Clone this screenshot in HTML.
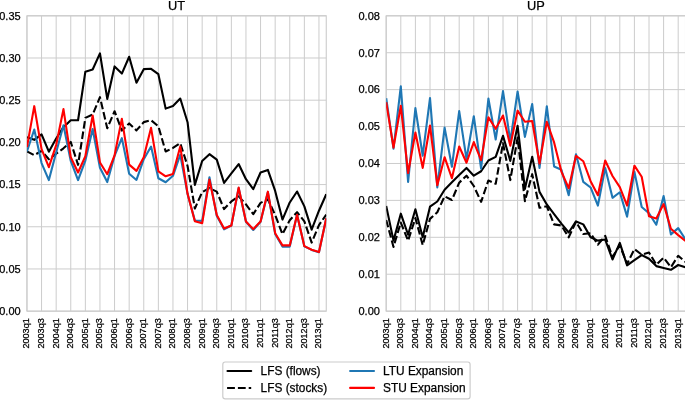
<!DOCTYPE html>
<html><head><meta charset="utf-8"><title>UT / UP</title>
<style>
html,body{margin:0;padding:0;background:#fff;}
body{width:685px;height:400px;overflow:hidden;}
svg{display:block;will-change:transform;font-family:"Liberation Sans",sans-serif;fill:#000;}
svg text{fill:#000;stroke:#000;stroke-width:0.25px;}
</style></head>
<body>
<svg width="685" height="400" viewBox="0 0 685 400">
<rect x="0" y="0" width="685" height="400" fill="#fff"/>
<g id="left">
<line x1="26.96" y1="15.8" x2="26.96" y2="311.15" stroke="#cccccc" stroke-width="1"/>
<line x1="41.56" y1="15.8" x2="41.56" y2="311.15" stroke="#cccccc" stroke-width="1"/>
<line x1="56.16" y1="15.8" x2="56.16" y2="311.15" stroke="#cccccc" stroke-width="1"/>
<line x1="70.76" y1="15.8" x2="70.76" y2="311.15" stroke="#cccccc" stroke-width="1"/>
<line x1="85.36" y1="15.8" x2="85.36" y2="311.15" stroke="#cccccc" stroke-width="1"/>
<line x1="99.96" y1="15.8" x2="99.96" y2="311.15" stroke="#cccccc" stroke-width="1"/>
<line x1="114.56" y1="15.8" x2="114.56" y2="311.15" stroke="#cccccc" stroke-width="1"/>
<line x1="129.16" y1="15.8" x2="129.16" y2="311.15" stroke="#cccccc" stroke-width="1"/>
<line x1="143.76" y1="15.8" x2="143.76" y2="311.15" stroke="#cccccc" stroke-width="1"/>
<line x1="158.36" y1="15.8" x2="158.36" y2="311.15" stroke="#cccccc" stroke-width="1"/>
<line x1="172.96" y1="15.8" x2="172.96" y2="311.15" stroke="#cccccc" stroke-width="1"/>
<line x1="187.56" y1="15.8" x2="187.56" y2="311.15" stroke="#cccccc" stroke-width="1"/>
<line x1="202.16" y1="15.8" x2="202.16" y2="311.15" stroke="#cccccc" stroke-width="1"/>
<line x1="216.76" y1="15.8" x2="216.76" y2="311.15" stroke="#cccccc" stroke-width="1"/>
<line x1="231.36" y1="15.8" x2="231.36" y2="311.15" stroke="#cccccc" stroke-width="1"/>
<line x1="245.96" y1="15.8" x2="245.96" y2="311.15" stroke="#cccccc" stroke-width="1"/>
<line x1="260.56" y1="15.8" x2="260.56" y2="311.15" stroke="#cccccc" stroke-width="1"/>
<line x1="275.16" y1="15.8" x2="275.16" y2="311.15" stroke="#cccccc" stroke-width="1"/>
<line x1="289.76" y1="15.8" x2="289.76" y2="311.15" stroke="#cccccc" stroke-width="1"/>
<line x1="304.36" y1="15.8" x2="304.36" y2="311.15" stroke="#cccccc" stroke-width="1"/>
<line x1="318.96" y1="15.8" x2="318.96" y2="311.15" stroke="#cccccc" stroke-width="1"/>
<line x1="26.96" y1="311.15" x2="326.26" y2="311.15" stroke="#cccccc" stroke-width="1"/>
<line x1="26.96" y1="268.96" x2="326.26" y2="268.96" stroke="#cccccc" stroke-width="1"/>
<line x1="26.96" y1="226.76" x2="326.26" y2="226.76" stroke="#cccccc" stroke-width="1"/>
<line x1="26.96" y1="184.57" x2="326.26" y2="184.57" stroke="#cccccc" stroke-width="1"/>
<line x1="26.96" y1="142.38" x2="326.26" y2="142.38" stroke="#cccccc" stroke-width="1"/>
<line x1="26.96" y1="100.19" x2="326.26" y2="100.19" stroke="#cccccc" stroke-width="1"/>
<line x1="26.96" y1="57.99" x2="326.26" y2="57.99" stroke="#cccccc" stroke-width="1"/>
<line x1="26.96" y1="15.80" x2="326.26" y2="15.80" stroke="#cccccc" stroke-width="1"/>
<rect x="26.96" y="15.8" width="299.30" height="295.35" fill="none" stroke="#cccccc" stroke-width="1.1"/>
<clipPath id="clipUT"><rect x="26.96" y="15.8" width="299.30" height="295.35"/></clipPath>
<g clip-path="url(#clipUT)">
<polyline points="26.96,137.32 34.26,139.85 41.56,134.36 48.86,151.66 56.16,138.50 63.46,127.19 70.76,120.27 78.06,120.27 85.36,71.66 92.66,69.55 99.96,53.44 107.26,98.92 114.56,66.43 121.86,73.60 129.16,56.73 136.46,82.72 143.76,69.13 151.06,68.79 158.36,74.19 165.66,108.62 172.96,106.09 180.26,98.50 187.56,122.21 194.86,184.91 202.16,160.94 209.46,154.19 216.76,159.68 224.06,182.88 231.36,173.43 238.66,164.07 245.96,179.17 253.26,189.13 260.56,172.50 267.86,169.89 275.16,190.90 282.46,219.59 289.76,202.46 297.06,191.49 304.36,206.34 311.66,229.63 318.96,210.73 326.26,194.28" fill="none" stroke="#000" stroke-width="2.1" stroke-linejoin="round" stroke-linecap="butt"/>
<polyline points="26.96,151.32 34.26,155.21 41.56,150.82 48.86,159.26 56.16,153.69 63.46,148.29 70.76,141.96 78.06,164.83 85.36,117.91 92.66,114.53 99.96,97.15 107.26,128.29 114.56,111.24 121.86,130.56 129.16,123.39 136.46,130.40 143.76,122.13 151.06,120.27 158.36,126.35 165.66,151.49 172.96,147.95 180.26,143.22 187.56,166.01 194.86,208.45 202.16,192.08 209.46,188.12 216.76,191.66 224.06,209.04 231.36,201.45 238.66,196.39 245.96,204.40 253.26,214.19 260.56,202.88 267.86,199.25 275.16,214.95 282.46,234.19 289.76,220.18 297.06,212.17 304.36,221.36 311.66,242.63 318.96,225.08 326.26,214.61" fill="none" stroke="#000" stroke-width="2.1" stroke-linejoin="round" stroke-linecap="butt" stroke-dasharray="7.6 3.0"/>
<polyline points="26.96,151.32 34.26,129.47 41.56,163.05 48.86,180.10 56.16,152.50 63.46,125.25 70.76,160.94 78.06,180.10 85.36,160.52 92.66,129.05 99.96,167.69 107.26,182.04 114.56,155.88 121.86,138.16 129.16,173.69 136.46,179.93 143.76,159.26 151.06,146.60 158.36,178.24 165.66,182.29 172.96,175.80 180.26,154.78 187.56,193.85 194.86,220.44 202.16,220.86 209.46,177.23 216.76,215.79 224.06,229.30 231.36,225.50 238.66,187.95 245.96,221.70 253.26,229.97 260.56,221.70 267.86,192.17 275.16,233.94 282.46,246.59 289.76,246.59 297.06,214.78 304.36,246.34 311.66,249.89 318.96,252.25 326.26,218.33" fill="none" stroke="#1f77b4" stroke-width="2.1" stroke-linejoin="round" stroke-linecap="butt"/>
<polyline points="26.96,147.19 34.26,106.18 41.56,149.13 48.86,167.19 56.16,145.08 63.46,109.13 70.76,157.23 78.06,172.50 85.36,156.30 92.66,115.46 99.96,162.46 107.26,174.19 114.56,155.37 121.86,118.83 129.16,164.66 136.46,170.90 143.76,157.23 151.06,127.86 158.36,171.32 165.66,176.30 172.96,174.02 180.26,146.60 187.56,193.85 194.86,221.19 202.16,223.30 209.46,179.68 216.76,215.03 224.06,228.54 231.36,225.50 238.66,187.61 245.96,221.45 253.26,229.13 260.56,221.45 267.86,191.66 275.16,233.18 282.46,245.41 289.76,245.41 297.06,214.78 304.36,246.17 311.66,249.72 318.96,252.08 326.26,218.33" fill="none" stroke="#ff0000" stroke-width="2.1" stroke-linejoin="round" stroke-linecap="butt"/>
</g>
<text x="20.66" y="315.00" text-anchor="end" font-size="11">0.00</text>
<text x="20.66" y="272.81" text-anchor="end" font-size="11">0.05</text>
<text x="20.66" y="230.61" text-anchor="end" font-size="11">0.10</text>
<text x="20.66" y="188.42" text-anchor="end" font-size="11">0.15</text>
<text x="20.66" y="146.23" text-anchor="end" font-size="11">0.20</text>
<text x="20.66" y="104.04" text-anchor="end" font-size="11">0.25</text>
<text x="20.66" y="61.84" text-anchor="end" font-size="11">0.30</text>
<text x="20.66" y="19.65" text-anchor="end" font-size="11">0.35</text>
<text transform="translate(29.36,318.2) rotate(-90)" text-anchor="end" font-size="9.1">2003q1</text>
<text transform="translate(43.96,318.2) rotate(-90)" text-anchor="end" font-size="9.1">2003q3</text>
<text transform="translate(58.56,318.2) rotate(-90)" text-anchor="end" font-size="9.1">2004q1</text>
<text transform="translate(73.16,318.2) rotate(-90)" text-anchor="end" font-size="9.1">2004q3</text>
<text transform="translate(87.76,318.2) rotate(-90)" text-anchor="end" font-size="9.1">2005q1</text>
<text transform="translate(102.36,318.2) rotate(-90)" text-anchor="end" font-size="9.1">2005q3</text>
<text transform="translate(116.96,318.2) rotate(-90)" text-anchor="end" font-size="9.1">2006q1</text>
<text transform="translate(131.56,318.2) rotate(-90)" text-anchor="end" font-size="9.1">2006q3</text>
<text transform="translate(146.16,318.2) rotate(-90)" text-anchor="end" font-size="9.1">2007q1</text>
<text transform="translate(160.76,318.2) rotate(-90)" text-anchor="end" font-size="9.1">2007q3</text>
<text transform="translate(175.36,318.2) rotate(-90)" text-anchor="end" font-size="9.1">2008q1</text>
<text transform="translate(189.96,318.2) rotate(-90)" text-anchor="end" font-size="9.1">2008q3</text>
<text transform="translate(204.56,318.2) rotate(-90)" text-anchor="end" font-size="9.1">2009q1</text>
<text transform="translate(219.16,318.2) rotate(-90)" text-anchor="end" font-size="9.1">2009q3</text>
<text transform="translate(233.76,318.2) rotate(-90)" text-anchor="end" font-size="9.1">2010q1</text>
<text transform="translate(248.36,318.2) rotate(-90)" text-anchor="end" font-size="9.1">2010q3</text>
<text transform="translate(262.96,318.2) rotate(-90)" text-anchor="end" font-size="9.1">2011q1</text>
<text transform="translate(277.56,318.2) rotate(-90)" text-anchor="end" font-size="9.1">2011q3</text>
<text transform="translate(292.16,318.2) rotate(-90)" text-anchor="end" font-size="9.1">2012q1</text>
<text transform="translate(306.76,318.2) rotate(-90)" text-anchor="end" font-size="9.1">2012q3</text>
<text transform="translate(321.36,318.2) rotate(-90)" text-anchor="end" font-size="9.1">2013q1</text>
<text x="176.61" y="10.3" text-anchor="middle" font-size="12.8">UT</text>
</g>
<g id="right">
<line x1="386.20" y1="15.8" x2="386.20" y2="311.15" stroke="#cccccc" stroke-width="1"/>
<line x1="400.80" y1="15.8" x2="400.80" y2="311.15" stroke="#cccccc" stroke-width="1"/>
<line x1="415.40" y1="15.8" x2="415.40" y2="311.15" stroke="#cccccc" stroke-width="1"/>
<line x1="430.00" y1="15.8" x2="430.00" y2="311.15" stroke="#cccccc" stroke-width="1"/>
<line x1="444.60" y1="15.8" x2="444.60" y2="311.15" stroke="#cccccc" stroke-width="1"/>
<line x1="459.20" y1="15.8" x2="459.20" y2="311.15" stroke="#cccccc" stroke-width="1"/>
<line x1="473.80" y1="15.8" x2="473.80" y2="311.15" stroke="#cccccc" stroke-width="1"/>
<line x1="488.40" y1="15.8" x2="488.40" y2="311.15" stroke="#cccccc" stroke-width="1"/>
<line x1="503.00" y1="15.8" x2="503.00" y2="311.15" stroke="#cccccc" stroke-width="1"/>
<line x1="517.60" y1="15.8" x2="517.60" y2="311.15" stroke="#cccccc" stroke-width="1"/>
<line x1="532.20" y1="15.8" x2="532.20" y2="311.15" stroke="#cccccc" stroke-width="1"/>
<line x1="546.80" y1="15.8" x2="546.80" y2="311.15" stroke="#cccccc" stroke-width="1"/>
<line x1="561.40" y1="15.8" x2="561.40" y2="311.15" stroke="#cccccc" stroke-width="1"/>
<line x1="576.00" y1="15.8" x2="576.00" y2="311.15" stroke="#cccccc" stroke-width="1"/>
<line x1="590.60" y1="15.8" x2="590.60" y2="311.15" stroke="#cccccc" stroke-width="1"/>
<line x1="605.20" y1="15.8" x2="605.20" y2="311.15" stroke="#cccccc" stroke-width="1"/>
<line x1="619.80" y1="15.8" x2="619.80" y2="311.15" stroke="#cccccc" stroke-width="1"/>
<line x1="634.40" y1="15.8" x2="634.40" y2="311.15" stroke="#cccccc" stroke-width="1"/>
<line x1="649.00" y1="15.8" x2="649.00" y2="311.15" stroke="#cccccc" stroke-width="1"/>
<line x1="663.60" y1="15.8" x2="663.60" y2="311.15" stroke="#cccccc" stroke-width="1"/>
<line x1="678.20" y1="15.8" x2="678.20" y2="311.15" stroke="#cccccc" stroke-width="1"/>
<line x1="386.2" y1="311.15" x2="685.50" y2="311.15" stroke="#cccccc" stroke-width="1"/>
<line x1="386.2" y1="274.23" x2="685.50" y2="274.23" stroke="#cccccc" stroke-width="1"/>
<line x1="386.2" y1="237.31" x2="685.50" y2="237.31" stroke="#cccccc" stroke-width="1"/>
<line x1="386.2" y1="200.39" x2="685.50" y2="200.39" stroke="#cccccc" stroke-width="1"/>
<line x1="386.2" y1="163.47" x2="685.50" y2="163.47" stroke="#cccccc" stroke-width="1"/>
<line x1="386.2" y1="126.56" x2="685.50" y2="126.56" stroke="#cccccc" stroke-width="1"/>
<line x1="386.2" y1="89.64" x2="685.50" y2="89.64" stroke="#cccccc" stroke-width="1"/>
<line x1="386.2" y1="52.72" x2="685.50" y2="52.72" stroke="#cccccc" stroke-width="1"/>
<line x1="386.2" y1="15.80" x2="685.50" y2="15.80" stroke="#cccccc" stroke-width="1"/>
<rect x="386.2" y="15.8" width="299.30" height="295.35" fill="none" stroke="#cccccc" stroke-width="1.1"/>
<clipPath id="clipUP"><rect x="386.2" y="15.8" width="299.30" height="295.35"/></clipPath>
<g clip-path="url(#clipUP)">
<polyline points="386.20,205.93 393.50,240.64 400.80,213.68 408.10,234.73 415.40,209.25 422.70,237.31 430.00,206.67 437.30,201.50 444.60,189.69 451.90,182.30 459.20,174.92 466.50,167.91 473.80,175.66 481.10,171.23 488.40,160.52 495.70,156.83 503.00,135.79 510.30,160.89 517.60,125.82 524.90,188.95 532.20,156.83 539.50,191.90 546.80,204.45 554.10,214.05 561.40,223.65 568.70,232.51 576.00,221.44 583.30,224.39 590.60,237.31 597.90,240.64 605.20,239.53 612.50,259.46 619.80,242.85 627.10,265.37 634.40,260.20 641.70,255.03 649.00,258.73 656.30,266.11 663.60,267.96 670.90,269.80 678.20,265.00 685.50,267.22" fill="none" stroke="#000" stroke-width="2.1" stroke-linejoin="round" stroke-linecap="butt"/>
<polyline points="386.20,219.96 393.50,246.91 400.80,222.54 408.10,240.64 415.40,218.11 422.70,245.07 430.00,218.85 437.30,212.21 444.60,196.33 451.90,200.02 459.20,182.67 466.50,175.66 473.80,186.00 481.10,201.87 488.40,180.46 495.70,183.78 503.00,143.17 510.30,180.09 517.60,137.63 524.90,201.13 532.20,174.18 539.50,207.78 546.80,206.30 554.10,224.39 561.40,225.50 568.70,237.31 576.00,221.81 583.30,233.99 590.60,233.25 597.90,244.70 605.20,235.84 612.50,256.88 619.80,245.43 627.10,263.89 634.40,249.13 641.70,254.66 649.00,252.45 656.30,264.63 663.60,257.62 670.90,267.22 678.20,255.77 685.50,262.05" fill="none" stroke="#000" stroke-width="2.1" stroke-linejoin="round" stroke-linecap="butt" stroke-dasharray="7.6 3.0"/>
<polyline points="386.20,98.13 393.50,148.71 400.80,86.31 408.10,181.93 415.40,108.10 422.70,155.72 430.00,98.13 437.30,187.47 444.60,127.66 451.90,166.80 459.20,111.05 466.50,159.04 473.80,116.22 481.10,168.64 488.40,98.50 495.70,139.48 503.00,91.11 510.30,141.32 517.60,91.48 524.90,136.89 532.20,104.04 539.50,167.91 546.80,106.25 554.10,166.43 561.40,169.75 568.70,195.23 576.00,154.25 583.30,181.93 590.60,187.47 597.90,205.56 605.20,167.91 612.50,197.81 619.80,192.27 627.10,216.64 634.40,171.60 641.70,207.04 649.00,213.32 656.30,224.76 663.60,195.96 670.90,234.36 678.20,228.08 685.50,239.53" fill="none" stroke="#1f77b4" stroke-width="2.1" stroke-linejoin="round" stroke-linecap="butt"/>
<polyline points="386.20,102.19 393.50,147.60 400.80,105.88 408.10,173.07 415.40,132.46 422.70,167.91 430.00,125.45 437.30,185.26 444.60,157.20 451.90,178.24 459.20,146.49 466.50,162.74 473.80,142.06 481.10,160.15 488.40,117.33 495.70,128.77 503.00,115.48 510.30,145.75 517.60,110.68 524.90,121.76 532.20,121.02 539.50,163.47 546.80,121.76 554.10,142.43 561.40,171.60 568.70,188.21 576.00,155.72 583.30,161.26 590.60,181.20 597.90,195.23 605.20,160.52 612.50,176.03 619.80,187.10 627.10,205.56 634.40,165.69 641.70,176.77 649.00,216.27 656.30,218.48 663.60,204.09 670.90,228.82 678.20,235.10 685.50,241.00" fill="none" stroke="#ff0000" stroke-width="2.1" stroke-linejoin="round" stroke-linecap="butt"/>
</g>
<text x="379.90" y="315.00" text-anchor="end" font-size="11">0.00</text>
<text x="379.90" y="278.08" text-anchor="end" font-size="11">0.01</text>
<text x="379.90" y="241.16" text-anchor="end" font-size="11">0.02</text>
<text x="379.90" y="204.24" text-anchor="end" font-size="11">0.03</text>
<text x="379.90" y="167.32" text-anchor="end" font-size="11">0.04</text>
<text x="379.90" y="130.41" text-anchor="end" font-size="11">0.05</text>
<text x="379.90" y="93.49" text-anchor="end" font-size="11">0.06</text>
<text x="379.90" y="56.57" text-anchor="end" font-size="11">0.07</text>
<text x="379.90" y="19.65" text-anchor="end" font-size="11">0.08</text>
<text transform="translate(388.60,318.2) rotate(-90)" text-anchor="end" font-size="9.1">2003q1</text>
<text transform="translate(403.20,318.2) rotate(-90)" text-anchor="end" font-size="9.1">2003q3</text>
<text transform="translate(417.80,318.2) rotate(-90)" text-anchor="end" font-size="9.1">2004q1</text>
<text transform="translate(432.40,318.2) rotate(-90)" text-anchor="end" font-size="9.1">2004q3</text>
<text transform="translate(447.00,318.2) rotate(-90)" text-anchor="end" font-size="9.1">2005q1</text>
<text transform="translate(461.60,318.2) rotate(-90)" text-anchor="end" font-size="9.1">2005q3</text>
<text transform="translate(476.20,318.2) rotate(-90)" text-anchor="end" font-size="9.1">2006q1</text>
<text transform="translate(490.80,318.2) rotate(-90)" text-anchor="end" font-size="9.1">2006q3</text>
<text transform="translate(505.40,318.2) rotate(-90)" text-anchor="end" font-size="9.1">2007q1</text>
<text transform="translate(520.00,318.2) rotate(-90)" text-anchor="end" font-size="9.1">2007q3</text>
<text transform="translate(534.60,318.2) rotate(-90)" text-anchor="end" font-size="9.1">2008q1</text>
<text transform="translate(549.20,318.2) rotate(-90)" text-anchor="end" font-size="9.1">2008q3</text>
<text transform="translate(563.80,318.2) rotate(-90)" text-anchor="end" font-size="9.1">2009q1</text>
<text transform="translate(578.40,318.2) rotate(-90)" text-anchor="end" font-size="9.1">2009q3</text>
<text transform="translate(593.00,318.2) rotate(-90)" text-anchor="end" font-size="9.1">2010q1</text>
<text transform="translate(607.60,318.2) rotate(-90)" text-anchor="end" font-size="9.1">2010q3</text>
<text transform="translate(622.20,318.2) rotate(-90)" text-anchor="end" font-size="9.1">2011q1</text>
<text transform="translate(636.80,318.2) rotate(-90)" text-anchor="end" font-size="9.1">2011q3</text>
<text transform="translate(651.40,318.2) rotate(-90)" text-anchor="end" font-size="9.1">2012q1</text>
<text transform="translate(666.00,318.2) rotate(-90)" text-anchor="end" font-size="9.1">2012q3</text>
<text transform="translate(680.60,318.2) rotate(-90)" text-anchor="end" font-size="9.1">2013q1</text>
<text x="535.85" y="10.3" text-anchor="middle" font-size="12.8">UP</text>
</g>
<g id="legend">

<rect x="222.8" y="362.0" width="247.3" height="36.8" rx="2.4" ry="2.4" fill="#fff" stroke="#cccccc" stroke-width="1.2"/>
<line x1="227.5" y1="371.0" x2="251.2" y2="371.0" stroke="#000" stroke-width="2.1" stroke-linecap="round"/>
<line x1="227.1" y1="388.0" x2="251.2" y2="388.0" stroke="#000" stroke-width="2.1" stroke-dasharray="7.8 3.0"/>
<line x1="350.1" y1="371.0" x2="374.0" y2="371.0" stroke="#1f77b4" stroke-width="2.1" stroke-linecap="round"/>
<line x1="350.1" y1="387.9" x2="374.0" y2="387.9" stroke="#ff0000" stroke-width="2.1" stroke-linecap="round"/>
<text x="260.6" y="375" font-size="11.87">LFS (flows)</text>
<text x="260.6" y="391.9" font-size="11.87">LFS (stocks)</text>
<text x="383.1" y="375" font-size="11.87">LTU Expansion</text>
<text x="383.1" y="391.9" font-size="11.87">STU Expansion</text>

</g>
</svg>
</body></html>
